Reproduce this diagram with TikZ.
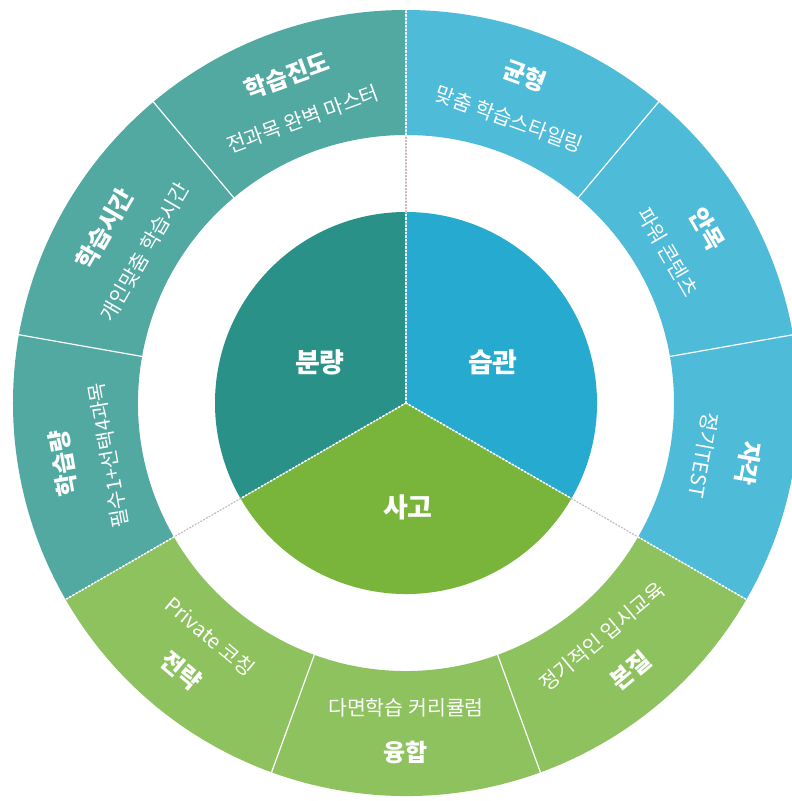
\documentclass[tikz,border=0pt]{standalone}
\usepackage{fontspec}
\setmainfont{Noto Sans CJK KR}
\usepackage{tikz}
\definecolor{wheelteal}{HTML}{2A9189}
\definecolor{wheeltealring}{HTML}{52A9A1}
\definecolor{wheelblue}{HTML}{27AACF}
\definecolor{wheelbluering}{HTML}{4EBBD9}
\definecolor{wheelgreen}{HTML}{79B53B}
\definecolor{wheelgreenring}{HTML}{8DC25F}
\definecolor{wheelgap}{HTML}{C4B4C2}

\begin{document}
\begin{tikzpicture}[x=1pt,y=1pt,line cap=round,
  title/.style={text=white,inner sep=0pt,font=\fontsize{24}{26}\selectfont\bfseries},
  sub/.style={text=white,inner sep=0pt,font=\fontsize{20.5}{22}\selectfont},
  core/.style={text=white,font=\fontsize{27}{30}\selectfont\bfseries},
  cut/.style={white,line width=1.2pt},
  seam/.style={white,line width=1.6pt,dotted}]
\clip (-406,-398) rectangle (386,403);
\fill[white] (-406,-398) rectangle (386,403);

% outer band, 120 degrees per colour
\foreach \a/\c in {90/wheeltealring,-30/wheelbluering,210/wheelgreenring}
  \fill[\c] (\a:393) arc[start angle=\a,delta angle=120,radius=393]
    -- ({\a+120}:268) arc[start angle=\a+120,delta angle=-120,radius=268] -- cycle;

% inner disc
\foreach \a/\c in {90/wheelteal,-30/wheelblue,210/wheelgreen}
  \fill[\c] (0,0) -- (\a:191) arc[start angle=\a,delta angle=120,radius=191] -- cycle;

% thin cuts inside each band
\foreach \a in {130,170,50,10,250,290}
  \draw[cut] (\a:268) -- (\a:393);

% seams between the three parts
\foreach \a in {90,210,330} {
  \draw[seam] (0,0) -- (\a:191);
  \draw[wheelgap,dotted,line width=1.2pt] (\a:191) -- (\a:268);
  \draw[seam] (\a:268) -- (\a:393);
}

% upper labels follow the rim
\foreach \a/\t/\s [count=\i] in {110/학습진도/전과목 완벽 마스터,
    150/학습시간/개인맞춤 학습시간, 190/학습량/필수1+선택4과목,
    70/균형/맞춤 학습스타일링, 30/안목/파워 콘텐츠, -10/자각/정기TEST} {
  \node[title,rotate=\a-90] (title\i) at (\a:348) {\t};
  \node[sub,rotate=\a-90] (sub\i) at (\a:302) {\s};
}
% lower labels, turned the other way
\foreach \a/\t/\s [count=\i from 7] in {230/전략/Private 코칭,
    270/융합/다면학습 커리큘럼, 310/본질/정기적인 입시교육} {
  \node[title,rotate=\a+90] (title\i) at (\a:349) {\t};
  \node[sub,rotate=\a+90] (sub\i) at (\a:305) {\s};
}

\node[core] (bunryang) at (-86,41) {분량};
\node[core] (seupgwan) at (87,41) {습관};
\node[core] (sago) at (2,-104) {사고};
\end{tikzpicture}
\end{document}
